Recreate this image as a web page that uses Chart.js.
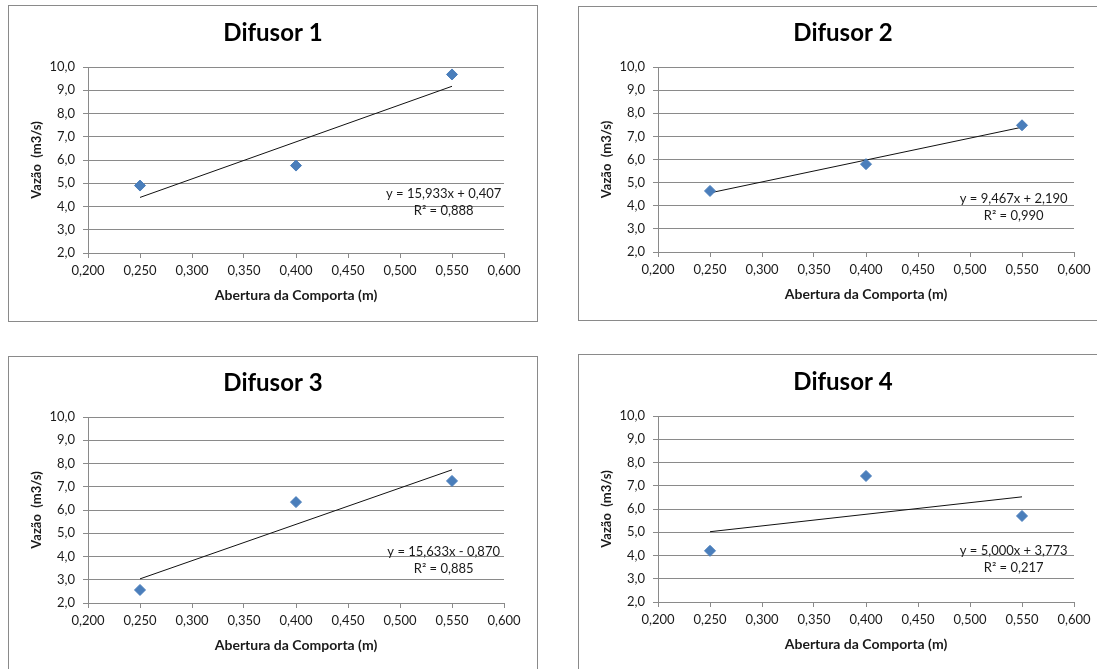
<!DOCTYPE html>
<html lang="pt-br">
<head>
<meta charset="UTF-8">
<title>Difusores - Vazão x Abertura da Comporta</title>
<script src="https://cdn.jsdelivr.net/npm/chart.js"></script>
<style>
    body {
        margin: 0;
        background: #fff;
        width: 1097px;
        height: 669px;
        overflow: hidden;
        position: relative;
        font-family: Lato, sans-serif;
    }
    .caixa {
        position: absolute;
        border: 1px solid #8a8a8a;
        box-sizing: border-box;
        background: #fff;
    }
    .caixa canvas { display: block; }
</style>
</head>
<body>
<div class="caixa" style="left:8px; top:5px; width:530px; height:317px;"><canvas id="g1" width="528" height="315"></canvas></div>
<div class="caixa" style="left:578px; top:6px; width:530px; height:315px;"><canvas id="g2" width="528" height="313"></canvas></div>
<div class="caixa" style="left:8px; top:356px; width:530px; height:340px;"><canvas id="g3" width="528" height="338"></canvas></div>
<div class="caixa" style="left:578px; top:354px; width:530px; height:340px;"><canvas id="g4" width="528" height="338"></canvas></div>

<script>
// dados
const aberturas = [0.25, 0.40, 0.55];          // abertura da comporta (m)
const vazaoDifusor1 = [4.90, 5.76, 9.68];      // m3/s
const vazaoDifusor2 = [4.64, 5.80, 7.48];
const vazaoDifusor3 = [2.56, 6.34, 7.25];
const vazaoDifusor4 = [4.20, 7.42, 5.70];
const titulos = ['Difusor 1', 'Difusor 2', 'Difusor 3', 'Difusor 4'];

// linhas de tendência (equações mostradas no gráfico)
const inclinacoes = [15.933, 9.467, 15.633, 5.000];
const interceptos = [0.407, 2.190, -0.870, 3.773];
const r2 = [0.888, 0.990, 0.885, 0.217];

const ticksX = [0.200, 0.250, 0.300, 0.350, 0.400, 0.450, 0.500, 0.550, 0.600];
const ticksY = [2, 3, 4, 5, 6, 7, 8, 9, 10];

// área de plotagem dentro de cada canvas e posição do rótulo da equação
const areas = [
    { l: 79, r: 495, t: 61, b: 247 },
    { l: 79, r: 495, t: 60, b: 245 },
    { l: 79, r: 495, t: 60, b: 246 },
    { l: 79, r: 495, t: 61, b: 247 }
];
const rotulos = [
    { x: 0.542, y1: 4.54, y2: 3.81 },
    { x: 0.542, y1: 4.32, y2: 3.55 },
    { x: 0.542, y1: 4.21, y2: 3.45 },
    { x: 0.542, y1: 4.21, y2: 3.45 }
];

const series = [vazaoDifusor1, vazaoDifusor2, vazaoDifusor3, vazaoDifusor4];
const corGrade = '#8a8a8a';
const corTexto = '#1a1a1a';
const azul = '#4a7ebb';
const alturaEixoX = 68;

const fmt = (v, casas) => v.toFixed(casas).replace('.', ',');

// título centrado na caixa inteira + equação da tendência
const pluginTextos = {
    id: 'textos',
    afterDatasetsDraw(chart, args, opts) {
        const { ctx, scales, chartArea } = chart;
        const i = opts.indice;
        ctx.save();
        ctx.fillStyle = '#000';
        ctx.textAlign = 'center';
        ctx.textBaseline = 'middle';
        ctx.font = 'bold 24px Lato';
        ctx.fillText(titulos[i], chart.width / 2, chartArea.top - 34);

        const a = inclinacoes[i], b = interceptos[i];
        const linha1 = 'y = ' + fmt(a, 3) + 'x ' + (b < 0 ? '- ' : '+ ') + fmt(Math.abs(b), 3);
        const linha2 = 'R\u00b2 = ' + fmt(r2[i], 3);
        const px = scales.x.getPixelForValue(rotulos[i].x);
        ctx.font = '13px Lato';
        ctx.fillStyle = corTexto;
        ctx.fillText(linha1, px, scales.y.getPixelForValue(rotulos[i].y1));
        ctx.fillText(linha2, px, scales.y.getPixelForValue(rotulos[i].y2));
        ctx.restore();
    }
};

function criarGrafico(i) {
    const canvas = document.getElementById('g' + (i + 1));
    const area = areas[i];
    const dados = series[i];
    const x0 = aberturas[0], x1 = aberturas[aberturas.length - 1];
    const tendencia = [
        { x: x0, y: inclinacoes[i] * x0 + interceptos[i] },
        { x: x1, y: inclinacoes[i] * x1 + interceptos[i] }
    ];

    new Chart(canvas.getContext('2d'), {
        type: 'scatter',
        data: {
            datasets: [
                {
                    label: 'Tendência',
                    data: tendencia,
                    showLine: true,
                    borderColor: '#111',
                    borderWidth: 1,
                    pointRadius: 0,
                    order: 2
                },
                {
                    label: 'Vazão',
                    data: aberturas.map((x, k) => ({ x: x, y: dados[k] })),
                    pointStyle: 'rectRot',
                    pointRadius: 5.5,
                    backgroundColor: azul,
                    borderColor: azul,
                    borderWidth: 1,
                    order: 1
                }
            ]
        },
        options: {
            responsive: false,
            animation: false,
            layout: {
                padding: { left: 0, top: area.t, right: canvas.width - area.r, bottom: canvas.height - area.b - alturaEixoX }
            },
            plugins: {
                legend: { display: false },
                tooltip: { enabled: false },
                title: { display: false },
                textos: { indice: i }
            },
            scales: {
                x: {
                    type: 'linear',
                    min: 0.2,
                    max: 0.6,
                    afterBuildTicks: s => { s.ticks = ticksX.map(v => ({ value: v })); },
                    afterFit: s => { s.height = alturaEixoX; },
                    grid: { drawOnChartArea: false, drawTicks: true, tickLength: 5, color: corGrade },
                    border: { color: corGrade },
                    ticks: {
                        color: corTexto,
                        font: { family: 'Lato', size: 13 },
                        padding: 5,
                        maxRotation: 0,
                        autoSkip: false,
                        callback: v => fmt(v, 3)
                    },
                    title: {
                        display: true,
                        text: 'Abertura da Comporta (m)',
                        color: corTexto,
                        font: { family: 'Lato', size: 14, weight: 'bold', lineHeight: 1.2 },
                        padding: { top: 0, bottom: 17 }
                    }
                },
                y: {
                    min: 2,
                    max: 10,
                    afterBuildTicks: s => { s.ticks = ticksY.map(v => ({ value: v })); },
                    afterFit: s => { s.width = area.l; },
                    grid: { drawTicks: true, tickLength: 5, color: corGrade },
                    border: { color: corGrade },
                    ticks: {
                        color: corTexto,
                        font: { family: 'Lato', size: 13 },
                        padding: 8,
                        callback: v => fmt(v, 1)
                    },
                    title: {
                        display: true,
                        text: 'Vazão  (m3/s)',
                        color: corTexto,
                        font: { family: 'Lato', size: 13, weight: 'bold', lineHeight: 1.2 },
                        padding: { top: 20, bottom: 0 }
                    }
                }
            }
        },
        plugins: [pluginTextos]
    });
}

titulos.forEach((t, i) => criarGrafico(i));
</script>
</body>
</html>
